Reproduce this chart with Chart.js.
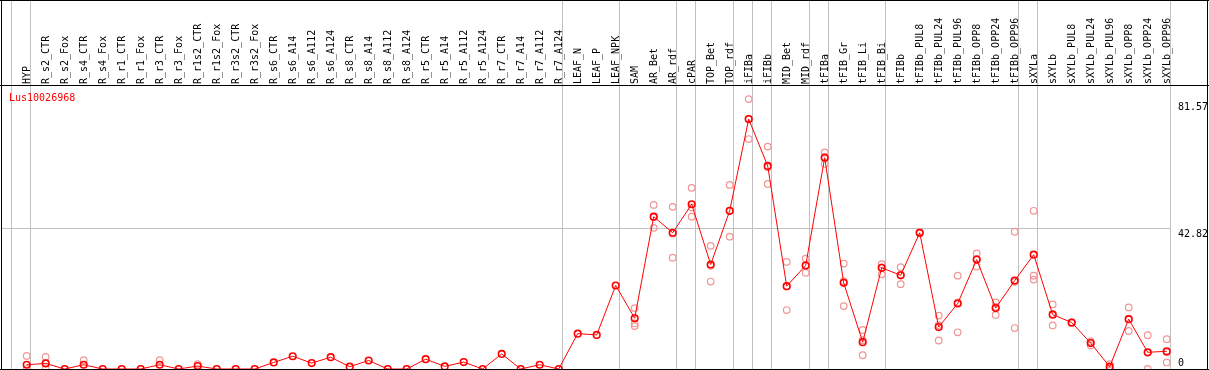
<!DOCTYPE html>
<html><head><meta charset="utf-8">
<script src="https://cdn.jsdelivr.net/npm/chart.js@4.4.1/dist/chart.umd.min.js"></script>
<style>html,body{margin:0;padding:0;background:#fff;overflow:hidden}canvas{display:block}</style>
</head><body>
<canvas id="c" width="1209" height="370"></canvas>
<script>
const categories = ['HYP','R_s2_CTR','R_s2_Fox','R_s4_CTR','R_s4_Fox','R_r1_CTR','R_r1_Fox','R_r3_CTR','R_r3_Fox','R_r1s2_CTR','R_r1s2_Fox','R_r3s2_CTR','R_r3s2_Fox','R_s6_CTR','R_s6_A14','R_s6_A112','R_s6_A124','R_s8_CTR','R_s8_A14','R_s8_A112','R_s8_A124','R_r5_CTR','R_r5_A14','R_r5_A112','R_r5_A124','R_r7_CTR','R_r7_A14','R_r7_A112','R_r7_A124','LEAF_N','LEAF_P','LEAF_NPK','SAM','AR_Bet','AR_rdf','cPAR','TOP_Bet','TOP_rdf','iFIBa','iFIBb','MID_Bet','MID_rdf','tFIBa','tFIB_Gr','tFIB_Li','tFIB_Bi','tFIBb','tFIBb_PUL8','tFIBb_PUL24','tFIBb_PUL96','tFIBb_OPP8','tFIBb_OPP24','tFIBb_OPP96','sXYLa','sXYLb','sXYLb_PUL8','sXYLb_PUL24','sXYLb_PUL96','sXYLb_OPP8','sXYLb_OPP24','sXYLb_OPP96'];

const meanValues = [1.3,1.7,0,1.3,0,0,0,1.3,0,0.9,0,0,0,2.0,3.9,1.8,3.6,0.7,2.6,0,0,3.0,0.8,2.1,0,4.6,0,1.3,0,10.8,10.4,25.5,15.5,46.5,41.6,50.3,31.9,48.3,76.3,62.0,25.3,31.6,64.5,26.3,8.2,30.9,28.6,41.6,12.8,20.0,33.4,18.6,27.0,34.9,16.6,14.2,7.9,0.7,15.2,5.1,5.4];

const replicateA = [4.0,3.7,null,2.7,null,null,null,2.7,null,1.5,null,null,null,null,null,null,null,null,null,null,null,null,null,null,null,null,null,null,null,null,null,null,18.6,50.1,49.5,46.5,37.6,56.2,82.4,67.9,32.7,33.7,66.1,32.2,11.9,32.0,31.1,41.8,16.3,28.5,35.3,20.3,41.9,48.3,19.7,14.2,7.2,1.5,18.8,10.3,9.1];
const replicateB = [0,0.2,null,null,null,null,null,null,null,null,null,null,null,null,null,null,null,null,null,null,null,null,null,null,null,null,null,null,null,null,null,null,13.9,43.1,34.0,55.3,26.7,40.4,70.2,56.5,18.0,29.4,62.6,26.8,4.2,28.9,25.9,41.4,8.7,11.2,31.3,16.5,12.5,28.5,13.3,14.0,8.4,0,11.6,0,2.0];
const replicateC = [null,null,null,null,null,null,null,null,null,null,null,null,null,null,null,null,null,null,null,null,null,null,null,null,null,null,null,null,null,null,null,null,13.1,46.3,41.3,49.3,31.5,48.3,76.3,61.6,25.2,31.7,64.8,19.2,8.8,31.0,28.8,null,13.4,20.3,33.6,19.0,26.6,27.3,16.8,null,null,null,15.2,5.0,5.1];

const yTickValues = [0, 42.82, 81.57];
const yTickLabels = ['0', '42.82', '81.57'];
const yGridValues = [42.82];
const geneName = 'Lus10026968';
const groupEnds = [-1, 0, 28, 31, 34, 35, 37, 38, 39, 41, 42, 45, 52, 53, 60];

const FONT = '10px "DejaVu Sans Mono", "Liberation Mono", monospace';
const PINK = '#f09696';

const decor = {
  id: 'decor',
  beforeDatasetsDraw(chart) {
    const ctx = chart.ctx, xs = chart.scales.x, ys = chart.scales.y;
    ctx.save();
    ctx.fillStyle = '#c0c0c0';
    let lastX = 0;
    groupEnds.forEach(i => {
      const px = Math.floor(xs.getPixelForValue(i) + 4);
      lastX = Math.max(lastX, px);
      ctx.fillRect(px, 0, 1, 369);
    });
    yGridValues.forEach(v => {
      const py = Math.floor(ys.getPixelForValue(v));
      ctx.fillRect(1, py, lastX - 1, 1);
    });
    ctx.restore();
  },
  afterDatasetsDraw(chart) {
    const ctx = chart.ctx, xs = chart.scales.x, ys = chart.scales.y;
    ctx.save();
    ctx.fillStyle = '#000';
    ctx.fillRect(0, 0, 1209, 1);
    ctx.fillRect(0, 85, 1209, 1);
    ctx.fillRect(0, 369, 1209, 1);
    ctx.fillRect(1, 0, 1, 370);
    ctx.fillRect(1207, 0, 1, 370);
    ctx.font = FONT;
    ctx.fillStyle = '#000';
    ctx.textAlign = 'left';
    ctx.textBaseline = 'alphabetic';
    categories.forEach((c, i) => {
      const px = xs.getPixelForValue(i);
      ctx.save();
      ctx.translate(px, 84);
      ctx.rotate(-Math.PI / 2);
      ctx.fillText(c, 0, 3);
      ctx.restore();
    });
    yTickValues.forEach((v, k) => {
      const py = ys.getPixelForValue(v);
      const base = Math.min(366, Math.round(py) + 8);
      ctx.fillText(yTickLabels[k], 1178, base);
    });
    ctx.fillStyle = '#ff0000';
    ctx.fillText(geneName, 9, 101);
    ctx.restore();
  }
};

const repDataset = arr => ({
  data: arr,
  showLine: false,
  pointRadius: 3.3,
  pointBorderWidth: 1.2,
  pointBorderColor: PINK,
  pointBackgroundColor: 'rgba(0,0,0,0)',
  borderColor: PINK,
  clip: false
});

new Chart(document.getElementById('c').getContext('2d'), {
  type: 'line',
  data: {
    labels: categories,
    datasets: [
      {
        data: meanValues,
        borderColor: '#ff0000',
        borderWidth: 1,
        pointRadius: 3.3,
        pointBorderWidth: 1.6,
        pointBorderColor: '#ff0000',
        pointBackgroundColor: 'rgba(0,0,0,0)',
        tension: 0,
        clip: false
      },
      repDataset(replicateA),
      repDataset(replicateB),
      repDataset(replicateC)
    ]
  },
  options: {
    responsive: false,
    animation: false,
    devicePixelRatio: 1,
    layout: { autoPadding: false, padding: { left: 17.2, right: 32.8, top: 86, bottom: 1 } },
    plugins: { legend: { display: false }, tooltip: { enabled: false } },
    scales: {
      x: { type: 'category', offset: true, display: false },
      y: { type: 'linear', min: 0, max: 86.4, display: false }
    }
  },
  plugins: [decor]
});
</script>
</body></html>
